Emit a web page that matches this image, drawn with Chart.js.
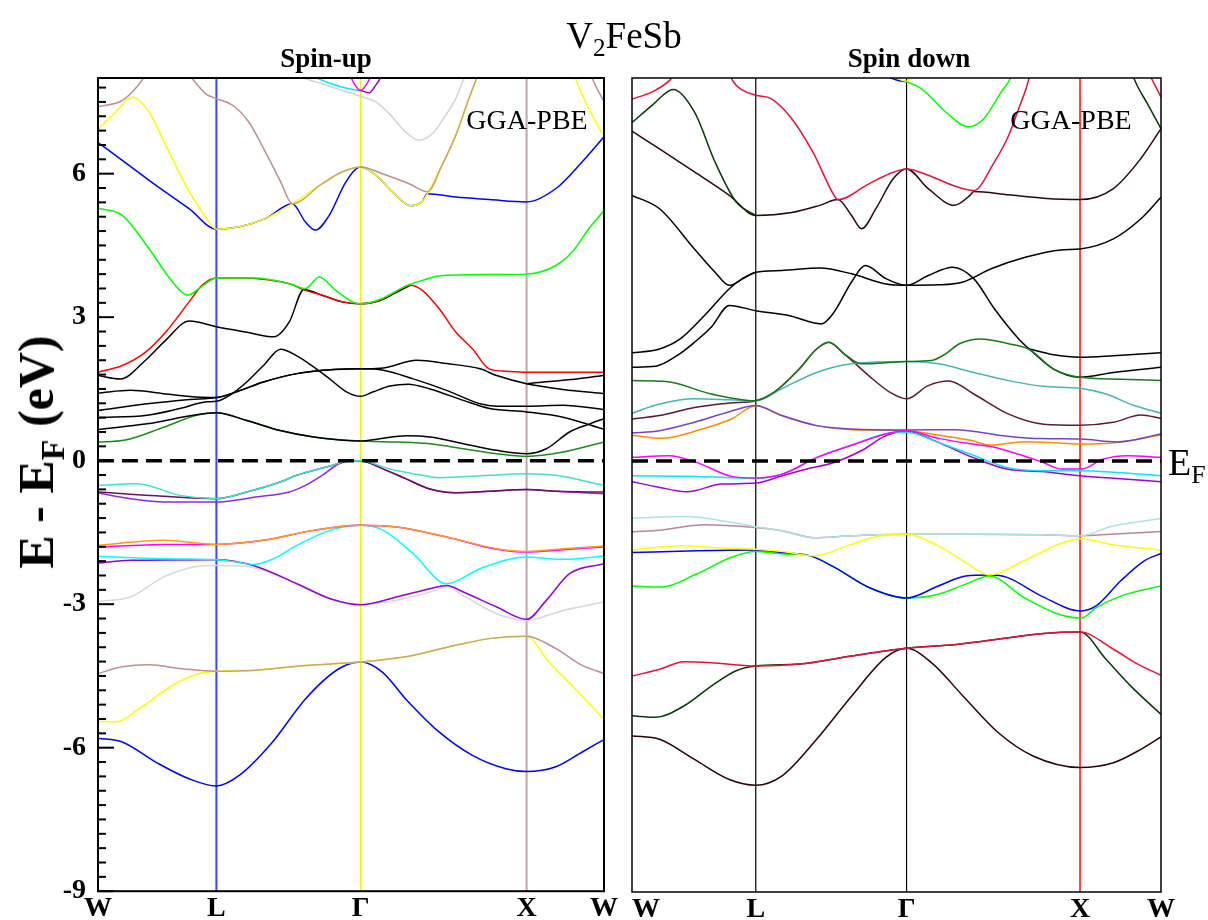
<!DOCTYPE html>
<html>
<head>
<meta charset="utf-8">
<title>V2FeSb band structure</title>
<script src="https://cdn.jsdelivr.net/npm/chart.js@4.4.0/dist/chart.umd.min.js"></script>
<style>
  body { margin: 0; background: #fff; }
  #page { position: relative; width: 1208px; height: 920px; overflow: hidden; background: #fff;
          font-family: "Liberation Serif", "Times New Roman", serif; color: #000; }
  canvas { position: absolute; top: 0; }
  #upCanvas { left: 0; }
  #downCanvas { left: 600px; }
  .txt { position: absolute; white-space: nowrap; line-height: 1; }
  .txt sub { font-size: 0.68em; vertical-align: -0.32em; line-height: 0; }
</style>
</head>
<body>
<div id="page">
  <canvas id="upCanvas" width="620" height="920"></canvas>
  <canvas id="downCanvas" width="604" height="920"></canvas>

  <div class="txt" style="left:624px; top:17px; font-size:37px; transform:translateX(-50%);">V<sub>2</sub>FeSb</div>
  <div class="txt" style="left:326px; top:45px; font-size:27px; font-weight:bold; transform:translateX(-50%);">Spin-up</div>
  <div class="txt" style="left:909px; top:45px; font-size:27px; font-weight:bold; transform:translateX(-50%);">Spin down</div>
  <div class="txt" style="left:527px; top:106px; font-size:28px; transform:translateX(-50%);">GGA-PBE</div>
  <div class="txt" style="left:1071px; top:106px; font-size:28px; transform:translateX(-50%);">GGA-PBE</div>
  <div class="txt" style="left:1168px; top:443px; font-size:38px;">E<sub>F</sub></div>
  <div class="txt" style="left:36px; top:452px; font-size:50px; font-weight:bold; transform:translate(-50%,-50%) rotate(-90deg);">E - E<sub>F</sub> (eV)</div>
</div>

<script>
// high-symmetry path and axis values
const kPoints = [0, 0.234, 0.519, 0.847, 1];
const kLabels = ['W', 'L', 'Γ', 'X', 'W'];
const yTicks = [-9, -6, -3, 0, 3, 6];
const eMin = -9, eMax = 8;
const fermiLevel = 0;

// ---- spin-up bands, [k, E (eV)] ----
const upGrayHi = [[0.377,8.23],[0.404,8.02],[0.443,7.88],[0.483,7.74],[0.519,7.62],[0.549,7.5],[0.575,7.26],[0.608,6.87],[0.634,6.7],[0.661,6.84],[0.687,7.22],[0.707,7.57],[0.723,7.99],[0.733,8.27]];
const upCyanHi = [[0.41,8.2],[0.43,8.02],[0.47,7.85],[0.503,7.76],[0.519,7.74]];
const upMagentaHi = [[0.49,8.2],[0.499,8.02],[0.519,7.74],[0.539,8.02],[0.548,8.2]];
const upPurpleHi = [[0.519,7.74],[0.536,7.69],[0.549,7.85],[0.559,8.02],[0.566,8.2]];
const upBlueHi = [[0,6.65],[0.048,6.28],[0.114,5.76],[0.18,5.27],[0.234,4.84],[0.279,4.89],[0.331,5.06],[0.384,5.37],[0.41,4.99],[0.43,4.82],[0.457,5.13],[0.49,5.83],[0.519,6.14],[0.549,5.97],[0.582,5.62],[0.618,5.33],[0.641,5.42],[0.651,5.58],[0.707,5.51],[0.773,5.46],[0.847,5.41],[0.905,5.69],[0.957,6.25],[1,6.77]];
const upYellowHi = [[0,6.93],[0.035,7.29],[0.068,7.6],[0.101,7.29],[0.134,6.59],[0.173,5.76],[0.206,5.2],[0.234,4.84],[0.279,4.89],[0.331,5.06],[0.384,5.37],[0.443,5.79],[0.483,6.04],[0.519,6.14],[0.549,5.97],[0.582,5.62],[0.618,5.33],[0.641,5.42],[0.651,5.58],[0.68,6.18],[0.707,6.8],[0.733,7.57],[0.753,8.13],[0.76,8.34]];
const upYellowEdge = [[0.935,8.35],[0.944,7.99],[0.97,7.36],[1,6.77]];
const upBrownHi = [[0,7.4],[0.048,7.53],[0.074,7.78],[0.094,8.06],[0.107,8.27]];
const upBrownMid = [[0.167,8.27],[0.186,7.99],[0.213,7.67],[0.234,7.57],[0.266,7.43],[0.298,7.08],[0.331,6.45],[0.361,5.83],[0.384,5.37],[0.443,5.79],[0.483,6.04],[0.519,6.14],[0.562,6.0],[0.615,5.79],[0.651,5.62],[0.68,6.18],[0.707,6.8],[0.733,7.57],[0.753,8.13],[0.76,8.34]];
const upBrownEdge = [[0.97,8.2],[0.977,7.99],[1,7.5]];
const upLime = [[0,5.28],[0.048,5.13],[0.101,4.43],[0.147,3.74],[0.177,3.46],[0.206,3.65],[0.234,3.82],[0.312,3.82],[0.378,3.7],[0.41,3.6],[0.437,3.84],[0.47,3.56],[0.503,3.32],[0.519,3.28],[0.562,3.39],[0.608,3.65],[0.641,3.77],[0.674,3.86],[0.773,3.89],[0.847,3.9],[0.905,4.08],[0.937,4.36],[0.97,4.85],[1,5.23]];
const upRed = [[0,1.85],[0.048,1.99],[0.094,2.27],[0.134,2.69],[0.18,3.32],[0.206,3.67],[0.234,3.82],[0.279,3.82],[0.331,3.79],[0.378,3.7],[0.41,3.56],[0.443,3.46],[0.483,3.32],[0.519,3.28],[0.555,3.35],[0.588,3.53],[0.618,3.67],[0.641,3.56],[0.674,3.18],[0.707,2.69],[0.74,2.34],[0.773,1.92],[0.806,1.87],[0.847,1.85],[1,1.85]];
const upBlackP = [[0,1.78],[0.044,1.71],[0.094,2.1],[0.134,2.52],[0.18,2.92],[0.234,2.8],[0.292,2.69],[0.348,2.59],[0.378,2.9],[0.407,3.58],[0.443,3.46],[0.483,3.32],[0.519,3.28],[0.555,3.34],[0.588,3.51],[0.618,3.67]];
const upBlackR = [[0,1.415],[0.064,1.47],[0.13,1.4],[0.195,1.33],[0.234,1.32],[0.274,1.44],[0.327,1.645],[0.393,1.82],[0.459,1.9],[0.519,1.92],[0.564,1.94],[0.63,2.1],[0.689,2.03],[0.755,1.92],[0.788,1.78],[0.847,1.61],[0.919,1.49],[1,1.4]];
const upBlackS = [[0,1.05],[0.097,1.19],[0.182,1.28],[0.234,1.32],[0.274,1.44],[0.327,1.645],[0.393,1.82],[0.459,1.9],[0.519,1.92],[0.564,1.89],[0.623,1.71],[0.689,1.47],[0.755,1.19],[0.788,1.14],[0.847,1.14],[0.919,1.16],[1,1.07]];
const upBlackQ = [[0,0.9],[0.097,0.95],[0.162,1.09],[0.215,1.23],[0.234,1.24],[0.261,1.37],[0.294,1.645],[0.327,1.99],[0.361,2.33],[0.393,2.19],[0.426,1.96],[0.459,1.7],[0.491,1.44],[0.519,1.345],[0.544,1.44],[0.577,1.56],[0.613,1.6],[0.656,1.5],[0.722,1.26],[0.774,1.09],[0.847,1.02],[0.919,0.91],[1,0.655]];
const upBlackT = [[0,0.65],[0.097,0.77],[0.195,0.96],[0.234,1.0],[0.294,0.84],[0.36,0.63],[0.426,0.495],[0.519,0.41],[0.557,0.46],[0.61,0.52],[0.656,0.495],[0.722,0.355],[0.788,0.216],[0.847,0.146],[0.886,0.25],[0.932,0.6],[0.972,0.77],[1,0.88]];
const upBlackXW = [[0.847,1.61],[0.919,1.68],[1,1.78]];
const upGreen = [[0,0.39],[0.051,0.425],[0.13,0.7],[0.195,0.95],[0.234,1.0],[0.294,0.84],[0.36,0.63],[0.426,0.495],[0.519,0.41],[0.59,0.39],[0.656,0.355],[0.722,0.25],[0.788,0.146],[0.847,0.09],[0.919,0.18],[1,0.39]];
const upTurq = [[0,-0.516],[0.077,-0.48],[0.162,-0.725],[0.234,-0.794],[0.294,-0.655],[0.36,-0.446],[0.393,-0.306],[0.459,-0.11],[0.498,0],[0.519,0],[0.575,-0.167],[0.641,-0.306],[0.674,-0.355],[0.773,-0.306],[0.847,-0.272],[0.905,-0.306],[1,-0.516]];
const upDarkPurple = [[0,-0.655],[0.13,-0.746],[0.234,-0.794],[0.294,-0.655],[0.36,-0.446],[0.393,-0.306],[0.459,-0.11],[0.498,0],[0.519,0],[0.562,-0.167],[0.608,-0.376],[0.654,-0.585],[0.707,-0.669],[0.773,-0.641],[0.847,-0.6],[0.905,-0.641],[1,-0.655]];
const upViolet = [[0,-0.676],[0.064,-0.794],[0.13,-0.864],[0.234,-0.864],[0.312,-0.76],[0.378,-0.655],[0.41,-0.516],[0.443,-0.307],[0.476,-0.063],[0.503,0],[0.519,0],[0.562,-0.167],[0.608,-0.376],[0.654,-0.585],[0.707,-0.669],[0.773,-0.641],[0.847,-0.6],[0.905,-0.641],[1,-0.69]];
const upOrange = [[0,-1.77],[0.13,-1.665],[0.234,-1.75],[0.327,-1.665],[0.426,-1.457],[0.519,-1.352],[0.59,-1.387],[0.689,-1.596],[0.788,-1.84],[0.847,-1.896],[0.919,-1.84],[1,-1.784]];
const upMagenta = [[0,-1.805],[0.13,-1.75],[0.234,-1.75],[0.327,-1.665],[0.426,-1.457],[0.519,-1.352],[0.59,-1.387],[0.689,-1.596],[0.788,-1.85],[0.847,-1.91],[0.919,-1.86],[1,-1.805]];
const upCyanLo = [[0,-2.0],[0.13,-2.05],[0.234,-2.07],[0.274,-2.12],[0.307,-2.17],[0.347,-2.05],[0.393,-1.77],[0.459,-1.457],[0.519,-1.352],[0.564,-1.457],[0.623,-1.944],[0.689,-2.572],[0.755,-2.258],[0.847,-2.014],[0.919,-2.063],[1,-1.993]];
const upVioletLo = [[0,-2.14],[0.064,-2.084],[0.234,-2.07],[0.307,-2.19],[0.393,-2.572],[0.459,-2.885],[0.519,-3.01],[0.59,-2.85],[0.656,-2.676],[0.689,-2.607],[0.722,-2.746],[0.788,-3.06],[0.847,-3.317],[0.886,-2.92],[0.932,-2.363],[1,-2.153]];
const upGrayLo = [[0,-2.94],[0.064,-2.85],[0.13,-2.43],[0.195,-2.21],[0.234,-2.19],[0.294,-2.21],[0.393,-2.572],[0.459,-2.885],[0.519,-3.01],[0.59,-2.92],[0.656,-2.746],[0.689,-2.64],[0.722,-2.82],[0.788,-3.2],[0.847,-3.34],[0.919,-3.13],[1,-2.955]];
const upBrownLo = [[0,-4.45],[0.048,-4.31],[0.101,-4.265],[0.167,-4.35],[0.234,-4.4],[0.312,-4.38],[0.41,-4.28],[0.519,-4.21],[0.608,-4.1],[0.707,-3.86],[0.773,-3.72],[0.847,-3.67],[0.905,-3.93],[0.957,-4.28],[1,-4.45]];
const upYellowLo = [[0,-5.45],[0.035,-5.46],[0.081,-5.185],[0.147,-4.7],[0.2,-4.45],[0.234,-4.4],[0.312,-4.38],[0.41,-4.28],[0.519,-4.21],[0.608,-4.1],[0.707,-3.86],[0.773,-3.72],[0.847,-3.67],[0.891,-4.21],[0.937,-4.7],[1,-5.41]];
const upBlueLo = [[0,-5.8],[0.048,-5.88],[0.114,-6.3],[0.18,-6.65],[0.234,-6.8],[0.279,-6.58],[0.345,-5.88],[0.41,-4.98],[0.476,-4.35],[0.519,-4.21],[0.562,-4.42],[0.608,-4.98],[0.674,-5.67],[0.74,-6.16],[0.806,-6.44],[0.847,-6.5],[0.905,-6.4],[0.957,-6.09],[1,-5.83]];

// ---- spin-down bands ----
const dnBlueTiny = [[0.47,8.08],[0.5,7.96],[0.519,7.92]];
const dnYellowTiny = [[0.49,8.06],[0.519,7.93],[0.532,8.06]];
const dnLimeHi = [[0.519,7.92],[0.547,7.78],[0.593,7.29],[0.636,6.98],[0.665,7.15],[0.698,7.71],[0.715,7.99],[0.721,8.2]];
const dnCrimsonA = [[0,7.56],[0.038,7.71],[0.071,7.95],[0.088,8.2],[0.101,8.4]];
const dnCrimsonB = [[0.177,8.34],[0.19,7.95],[0.21,7.74],[0.234,7.64],[0.263,7.57],[0.302,7.15],[0.342,6.45],[0.382,5.55],[0.389,5.46],[0.448,5.79],[0.487,6.0],[0.519,6.1],[0.56,5.97],[0.606,5.76],[0.646,5.65],[0.685,6.245],[0.712,6.8],[0.731,7.36],[0.745,7.78],[0.754,8.13],[0.761,8.34]];
const dnCrimsonC = [[0.972,8.2],[0.982,7.99],[1,7.6]];
const dnDkGreenHiA = [[0,7.07],[0.038,7.43],[0.078,7.76],[0.118,7.29],[0.157,6.245],[0.197,5.41],[0.234,5.13]];
const dnDkGreenHiB = [[0.943,8.2],[0.949,7.99],[0.976,7.43],[1,6.94]];
const dnMaroonHi = [[0,6.89],[0.052,6.52],[0.118,6.04],[0.184,5.55],[0.234,5.13],[0.302,5.19],[0.355,5.34],[0.389,5.46],[0.415,5.13],[0.434,4.85],[0.461,5.27],[0.494,5.9],[0.519,6.1],[0.56,5.69],[0.609,5.34],[0.639,5.55],[0.646,5.63],[0.712,5.56],[0.778,5.49],[0.847,5.46],[0.91,5.69],[0.962,6.32],[1,6.94]];
const dnBlackHi = [[0,5.55],[0.052,5.27],[0.118,4.43],[0.157,3.945],[0.184,3.67],[0.21,3.81],[0.234,3.945],[0.283,3.98],[0.355,4.03],[0.415,3.91],[0.48,3.7],[0.519,3.67],[0.58,3.68],[0.626,3.74],[0.679,4.015],[0.745,4.26],[0.811,4.41],[0.847,4.43],[0.91,4.64],[0.962,5.06],[1,5.51]];
const dnBlackRise = [[0,2.26],[0.052,2.34],[0.091,2.55],[0.137,3.04],[0.184,3.6],[0.21,3.82],[0.234,3.945]];
const dnBlackBump = [[0,1.96],[0.045,1.98],[0.085,2.2],[0.118,2.48],[0.15,2.8],[0.184,3.25],[0.234,3.14],[0.296,3.04],[0.358,2.865],[0.382,3.11],[0.415,3.74],[0.441,4.085],[0.48,3.81],[0.519,3.67],[0.56,3.875],[0.606,4.05],[0.646,3.81],[0.685,3.18],[0.731,2.55],[0.751,2.34],[0.797,1.92],[0.847,1.75],[0.91,1.85],[1,1.96]];
const dnBlackXW = [[0.751,2.34],[0.797,2.22],[0.847,2.17],[0.91,2.2],[1,2.26]];
const dnMaroonMid = [[0,0.88],[0.052,0.95],[0.118,1.12],[0.184,1.21],[0.234,1.26],[0.269,1.44],[0.316,1.92],[0.349,2.34],[0.372,2.48],[0.401,2.24],[0.448,1.78],[0.487,1.44],[0.519,1.3],[0.56,1.575],[0.599,1.67],[0.646,1.4],[0.712,0.98],[0.778,0.77],[0.847,0.75],[0.91,0.81],[0.962,0.96],[1,0.89]];
const dnTeal = [[0,1.0],[0.052,1.19],[0.118,1.3],[0.184,1.28],[0.234,1.26],[0.283,1.51],[0.349,1.85],[0.415,2.03],[0.519,2.08],[0.58,2.03],[0.646,1.85],[0.712,1.68],[0.778,1.56],[0.847,1.52],[0.896,1.4],[0.949,1.16],[1,1.0]];
const dnGreen = [[0,1.68],[0.065,1.66],[0.15,1.4],[0.234,1.26],[0.269,1.44],[0.316,1.92],[0.349,2.34],[0.372,2.48],[0.401,2.24],[0.434,2.03],[0.519,2.08],[0.566,2.1],[0.593,2.24],[0.619,2.45],[0.659,2.55],[0.712,2.45],[0.751,2.33],[0.797,1.92],[0.847,1.75],[0.923,1.71],[1,1.68]];
const dnOrange = [[0,0.54],[0.057,0.474],[0.122,0.634],[0.188,0.878],[0.234,1.157],[0.283,0.95],[0.349,0.74],[0.415,0.655],[0.519,0.635],[0.578,0.544],[0.644,0.425],[0.676,0.334],[0.741,0.404],[0.807,0.376],[0.849,0.355],[0.917,0.39],[1,0.544]];
const dnBlueViolet = [[0,0.585],[0.052,0.635],[0.118,0.81],[0.184,1.03],[0.234,1.16],[0.283,0.95],[0.349,0.74],[0.415,0.67],[0.519,0.65],[0.611,0.655],[0.709,0.52],[0.774,0.47],[0.849,0.46],[0.917,0.4],[1,0.565]];
const dnViolet = [[0,-0.43],[0.052,-0.55],[0.104,-0.64],[0.17,-0.48],[0.234,-0.46],[0.283,-0.31],[0.329,-0.17],[0.382,-0.03],[0.434,0.22],[0.48,0.53],[0.519,0.63],[0.579,0.39],[0.644,0.077],[0.709,-0.167],[0.774,-0.22],[0.847,-0.306],[0.91,-0.36],[1,-0.43]];
const dnCyan = [[0,-0.306],[0.122,-0.32],[0.233,-0.362],[0.285,-0.27],[0.35,0.077],[0.416,0.335],[0.487,0.585],[0.519,0.6],[0.579,0.39],[0.644,0.125],[0.709,-0.132],[0.774,-0.2],[0.849,-0.2],[0.917,-0.237],[1,-0.306]];
const dnMagenta = [[0,0.077],[0.07,0.11],[0.122,-0.028],[0.188,-0.32],[0.233,-0.355],[0.285,-0.27],[0.35,0.077],[0.416,0.335],[0.487,0.585],[0.519,0.634],[0.579,0.474],[0.644,0.355],[0.676,0.307],[0.709,0.216],[0.774,-0.014],[0.813,-0.167],[0.849,-0.167],[0.891,0.042],[0.937,0.112],[1,0.077]];
const dnMauve = [[0,-1.48],[0.057,-1.44],[0.136,-1.33],[0.233,-1.39],[0.285,-1.46],[0.344,-1.6],[0.416,-1.56],[0.519,-1.53],[0.644,-1.53],[0.774,-1.54],[0.849,-1.56],[0.904,-1.53],[1,-1.47]];
const dnPowder = [[0,-1.19],[0.103,-1.16],[0.188,-1.28],[0.233,-1.37],[0.285,-1.46],[0.344,-1.6],[0.416,-1.56],[0.519,-1.53],[0.644,-1.53],[0.774,-1.54],[0.849,-1.56],[0.904,-1.37],[1,-1.2]];
const dnLime = [[0,-2.61],[0.057,-2.63],[0.122,-2.36],[0.188,-2.01],[0.233,-1.89],[0.285,-1.94],[0.337,-1.98],[0.383,-2.22],[0.448,-2.64],[0.519,-2.86],[0.579,-2.78],[0.631,-2.57],[0.676,-2.4],[0.741,-2.85],[0.807,-3.2],[0.849,-3.28],[0.878,-3.06],[0.924,-2.82],[1,-2.61]];
const dnBlue = [[0,-1.91],[0.122,-1.875],[0.233,-1.86],[0.285,-1.91],[0.337,-1.98],[0.383,-2.22],[0.448,-2.64],[0.519,-2.86],[0.579,-2.61],[0.631,-2.4],[0.676,-2.38],[0.709,-2.43],[0.774,-2.82],[0.849,-3.13],[0.878,-3.02],[0.924,-2.5],[0.969,-2.08],[1,-1.93]];
const dnYellow = [[0,-1.86],[0.09,-1.77],[0.175,-1.82],[0.233,-1.84],[0.285,-1.89],[0.344,-1.98],[0.416,-1.735],[0.481,-1.54],[0.519,-1.53],[0.579,-1.77],[0.631,-2.12],[0.676,-2.38],[0.741,-2.08],[0.807,-1.735],[0.849,-1.62],[0.904,-1.735],[1,-1.86]];
const dnMaroonLo = [[0,-5.74],[0.052,-5.81],[0.118,-6.23],[0.184,-6.65],[0.234,-6.77],[0.283,-6.58],[0.349,-5.81],[0.415,-4.91],[0.48,-4.1],[0.519,-3.91],[0.566,-4.21],[0.626,-4.91],[0.692,-5.67],[0.758,-6.16],[0.847,-6.4],[0.91,-6.3],[0.962,-6.02],[1,-5.76]];
const dnDkGreenLo = [[0,-5.32],[0.045,-5.35],[0.098,-5.115],[0.15,-4.7],[0.197,-4.38],[0.234,-4.28],[0.316,-4.24],[0.415,-4.07],[0.519,-3.91],[0.613,-3.83],[0.712,-3.69],[0.778,-3.6],[0.847,-3.57],[0.896,-4.14],[0.943,-4.7],[1,-5.29]];
const dnCrimsonLo = [[0,-4.49],[0.052,-4.35],[0.098,-4.19],[0.15,-4.21],[0.234,-4.28],[0.316,-4.24],[0.415,-4.07],[0.519,-3.91],[0.613,-3.83],[0.712,-3.69],[0.778,-3.6],[0.847,-3.57],[0.91,-3.93],[0.956,-4.24],[1,-4.475]];

const TAN = '#c9a46c';

// drawing order: first entry at the bottom, last on top
const upBands = [
  [upGrayHi, '#d3d3d3'], [upCyanHi, '#00e5ff'], [upMagentaHi, '#ff00ff'], [upPurpleHi, '#9400d3'],
  [upBlueHi, '#0000ff'], [upYellowHi, '#ffff00'], [upYellowEdge, '#ffff00'],
  [upBrownHi, '#bc8f8f'], [upBrownMid, '#bc8f8f', [[0.384, 0.519], [0.651, 0.77]]], [upBrownEdge, '#bc8f8f'],
  [upBlackP, '#000000'], [upRed, '#ff0000'], [upLime, '#00ff00'],
  [upGreen, '#1a8c1a'], [upBlackR, '#000000'], [upBlackS, '#000000'], [upBlackQ, '#000000'],
  [upBlackT, '#000000'], [upBlackXW, '#000000'],
  [upViolet, '#8a2be2'], [upDarkPurple, '#6b1060'], [upTurq, '#40e0d0'],
  [upGrayLo, '#d8d8d8'], [upVioletLo, '#9400d3'], [upCyanLo, '#00ffff'], [upMagenta, '#ff00ff'], [upOrange, '#ff9a1a'],
  [upBlueLo, '#0000ff'], [upYellowLo, '#ffff00'], [upBrownLo, '#bc8f8f', [[0.234, 0.847]]]
];

const downBands = [
  [dnBlueTiny, '#0000ff'], [dnYellowTiny, '#ffff00'], [dnLimeHi, '#00ff00'],
  [dnCrimsonA, '#e8103c'], [dnMaroonHi, '#2a0808'], [dnCrimsonB, '#e8103c'], [dnCrimsonC, '#e8103c'],
  [dnDkGreenHiA, '#073807'], [dnDkGreenHiB, '#073807'],
  [dnBlackHi, '#000000'], [dnBlackRise, '#000000'], [dnBlackBump, '#000000'], [dnBlackXW, '#000000'],
  [dnMaroonMid, '#5a1a3c'], [dnTeal, '#45b5b5'], [dnGreen, '#157a15'],
  [dnOrange, '#ff8c00'], [dnBlueViolet, '#7443cc'], [dnViolet, '#a000d8'], [dnCyan, '#00e8f8'], [dnMagenta, '#ff00ff'],
  [dnMauve, '#b8869e'], [dnPowder, '#b0e0e6'],
  [dnLime, '#00ff00'], [dnBlue, '#0000ff'], [dnYellow, '#ffff00'],
  [dnMaroonLo, '#2a0404'], [dnDkGreenLo, '#073807'], [dnCrimsonLo, '#e8103c']
];

function bandDatasets(bands) {
  const n = bands.length;
  const sets = bands.map(([pts, color, tanRanges], i) => {
    const ds = {
      data: pts.map(p => ({ x: p[0], y: p[1] })),
      borderColor: color,
      borderWidth: 1.5,
      pointRadius: 0,
      fill: false,
      cubicInterpolationMode: 'monotone',
      order: n + 1 - i
    };
    if (tanRanges) {
      ds.segment = {
        borderColor: c => tanRanges.some(r => c.p0.parsed.x >= r[0] - 1e-6 && c.p1.parsed.x <= r[1] + 1e-6) ? TAN : undefined
      };
    }
    return ds;
  });
  // Fermi level, dashed, on top of everything
  sets.push({
    data: [{ x: kPoints[0], y: fermiLevel }, { x: kPoints[kPoints.length - 1], y: fermiLevel }],
    borderColor: '#000', borderWidth: 3.5, borderDash: [16, 8], pointRadius: 0, fill: false, order: 0
  });
  return sets;
}

function framePlugin(cfg) {
  return {
    id: 'bandFrame',
    beforeDatasetsDraw(chart) {
      const { ctx, chartArea: a, scales: { x } } = chart;
      ctx.save();
      cfg.marks.forEach((m, i) => {
        if (!m) return;
        const px = x.getPixelForValue(kPoints[i]);
        ctx.strokeStyle = m[0];
        ctx.lineWidth = m[1];
        ctx.beginPath();
        ctx.moveTo(px, a.top);
        ctx.lineTo(px, a.bottom);
        ctx.stroke();
      });
      ctx.restore();
    },
    afterDatasetsDraw(chart) {
      const { ctx, chartArea: a, scales: { y } } = chart;
      ctx.save();
      ctx.strokeStyle = '#000';
      ctx.lineWidth = cfg.frame;
      ctx.strokeRect(a.left, a.top, a.right - a.left, a.bottom - a.top);
      if (cfg.innerTicks) {
        ctx.lineWidth = 2;
        for (let i = 0; eMin + i * 0.3 <= eMax + 1e-9; i++) {
          const py = y.getPixelForValue(eMin + i * 0.3);
          ctx.beginPath();
          ctx.moveTo(a.left, py);
          ctx.lineTo(a.left + (i % 10 === 0 ? 16 : 8), py);
          ctx.stroke();
        }
      }
      ctx.restore();
    }
  };
}

const labelFont = { family: 'Liberation Serif', size: 28, weight: 'bold' };

// padFirst: the spin-down panel sets its first "W" just inside the frame, as in the original
function makeChart(id, bands, pad, showY, padFirst, plugin) {
  return new Chart(document.getElementById(id), {
    type: 'line',
    data: { datasets: bandDatasets(bands) },
    options: {
      responsive: false,
      animation: false,
      devicePixelRatio: 1,
      events: [],
      layout: { padding: pad },
      plugins: { legend: { display: false }, tooltip: { enabled: false } },
      scales: {
        x: {
          type: 'linear', min: 0, max: 1,
          grid: { display: false, drawTicks: false },
          border: { display: false },
          afterBuildTicks: s => { s.ticks = kPoints.map(v => ({ value: v })); },
          afterFit: s => { s.height = 28; },
          ticks: { autoSkip: false, maxRotation: 0, padding: 1, color: '#000', font: labelFont,
                   callback: (v, i) => (padFirst && i === 0 ? '\u2003' : '') + kLabels[i] }
        },
        y: {
          type: 'linear', min: eMin, max: eMax, display: showY,
          grid: { display: false, drawTicks: false },
          border: { display: false },
          afterBuildTicks: s => { s.ticks = yTicks.map(v => ({ value: v })); },
          afterFit: s => { s.width = showY ? 60 : 0; },
          ticks: { padding: 12, color: '#000', font: labelFont, callback: v => String(v) }
        }
      }
    },
    plugins: [plugin]
  });
}

makeChart('upCanvas', upBands, { left: 38, top: 78, right: 16, bottom: 0 }, true, false,
  framePlugin({ marks: [null, ['#3a46ff', 2], ['#f0f000', 1.5], ['#c4a4a4', 2], null], frame: 2, innerTicks: true }));

makeChart('downCanvas', downBands, { left: 32, top: 78, right: 43, bottom: 0 }, false, true,
  framePlugin({ marks: [null, ['#000', 1.2], ['#000', 1.2], ['#ff4040', 2], null], frame: 1.5, innerTicks: false }));
</script>
</body>
</html>
